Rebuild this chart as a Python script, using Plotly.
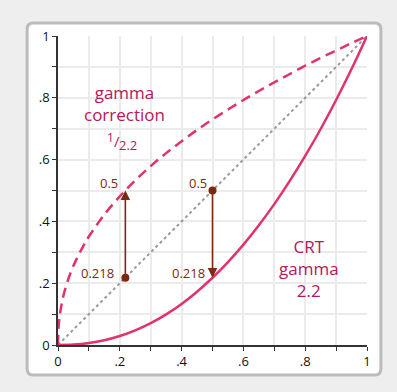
import plotly.graph_objects as go

# ---- data ----
x_corr = [0, 0.001, 0.0025, 0.005, 0.01, 0.02, 0.04, 0.06, 0.08, 0.1, 0.15, 0.2, 0.25, 0.3, 0.35,
          0.4, 0.45, 0.5, 0.55, 0.6, 0.65, 0.7, 0.75, 0.8, 0.85, 0.9, 0.95, 1]
y_corr = [0, 0.043, 0.066, 0.090, 0.123, 0.169, 0.232, 0.278, 0.317, 0.351, 0.422, 0.481, 0.533, 0.579, 0.621,
          0.659, 0.696, 0.730, 0.762, 0.793, 0.822, 0.850, 0.877, 0.904, 0.929, 0.953, 0.977, 1]
x_crt = [0, 0.05, 0.1, 0.15, 0.2, 0.25, 0.3, 0.35, 0.4, 0.45, 0.5, 0.55, 0.6, 0.65, 0.7, 0.75,
         0.8, 0.85, 0.9, 0.95, 1]
y_crt = [0, 0.0014, 0.0063, 0.0154, 0.029, 0.0474, 0.0707, 0.0993, 0.133, 0.1726, 0.2176, 0.2684, 0.325,
         0.3876, 0.456, 0.531, 0.612, 0.699, 0.793, 0.893, 1]
x_diag = [0, 1]
y_diag = [0, 1]
arrow_x = [0.218, 0.5]
arrow_from = [0.218, 0.5]
arrow_to = [0.5, 0.218]
tick_vals = [0, 0.1, 0.2, 0.3, 0.4, 0.5, 0.6, 0.7, 0.8, 0.9, 1]
tick_text = ["0", "", ".2", "", ".4", "", ".6", "", ".8", "", "1"]

CURVE = "#e0336e"
TEXT = "#b3185c"
BROWN = "#7b2a12"
FONT = "Open Sans"

fig = go.Figure()
fig.add_trace(go.Scatter(x=x_diag, y=y_diag, mode="lines",
                         line=dict(color="#9a9a9a", width=2, dash="dot"), hoverinfo="skip"))
fig.add_trace(go.Scatter(x=x_corr, y=y_corr, mode="lines", line_shape="spline",
                         line=dict(color=CURVE, width=2.5, dash="10px,6px"), hoverinfo="skip"))
fig.add_trace(go.Scatter(x=x_crt, y=y_crt, mode="lines", line_shape="spline",
                         line=dict(color=CURVE, width=2.5), hoverinfo="skip"))
fig.add_trace(go.Scatter(x=arrow_x, y=arrow_from, mode="markers",
                         marker=dict(color=BROWN, size=8), hoverinfo="skip"))

for ax_, y0, y1 in zip(arrow_x, arrow_from, arrow_to):
    fig.add_annotation(x=ax_, y=y1, ax=ax_, ay=y0, xref="x", yref="y", axref="x", ayref="y",
                       showarrow=True, arrowhead=2, arrowsize=1.2, arrowwidth=1.6,
                       arrowcolor=BROWN, text="")


def label(x, y, text, size, color, xanchor="center"):
    fig.add_annotation(x=x, y=y, text=text, showarrow=False, xanchor=xanchor, yanchor="middle",
                       borderpad=0, font=dict(family=FONT, size=size, color=color))


# value labels
label(0.196, 0.524, "0.5", 13, BROWN, "right")
label(0.485, 0.524, "0.5", 13, BROWN, "right")
label(0.186, 0.233, "0.218", 13, BROWN, "right")
label(0.478, 0.233, "0.218", 13, BROWN, "right")

# curve captions
label(0.2136, 0.783, "gamma<br>correction", 17, TEXT)
label(0.1715, 0.673, "1", 12, TEXT)
label(0.190, 0.660, "/", 15, TEXT)
label(0.226, 0.648, "2.2", 13, TEXT)
label(0.812, 0.246, "CRT<br>gamma<br>2.2", 17, TEXT)

# card background
x0, x1 = -0.1, 1.045
y0, y1 = -0.097, 1.042
r = 0.02
path = (f"M{x0+r},{y0} L{x1-r},{y0} Q{x1},{y0} {x1},{y0+r} L{x1},{y1-r} Q{x1},{y1} {x1-r},{y1} "
        f"L{x0+r},{y1} Q{x0},{y1} {x0},{y1-r} L{x0},{y0+r} Q{x0},{y0} {x0+r},{y0} Z")
fig.add_shape(type="path", path=path, xref="paper", yref="paper", layer="below",
              fillcolor="white", line=dict(color="#bbbbbb", width=3))

axis_common = dict(range=[0, 1], tickvals=tick_vals, ticktext=tick_text, ticks="outside",
                   ticklen=4, tickwidth=1.2, tickcolor="#333", showline=True, linecolor="#333",
                   linewidth=1.5, showgrid=True, gridcolor="#ebebeb", gridwidth=1.5,
                   zeroline=False, tickfont=dict(family=FONT, size=13, color="#111"),
                   fixedrange=True)
fig.update_xaxes(**axis_common)
fig.update_yaxes(**axis_common)

fig.update_layout(width=397, height=392, margin=dict(l=58, r=30, t=36, b=47),
                  paper_bgcolor="#eeeeee", plot_bgcolor="#fafafa", showlegend=False)

fig.write_html("out.html", config={"displayModeBar": False},
               post_script="document.body.style.margin='0';document.body.style.background='#eeeeee';")
